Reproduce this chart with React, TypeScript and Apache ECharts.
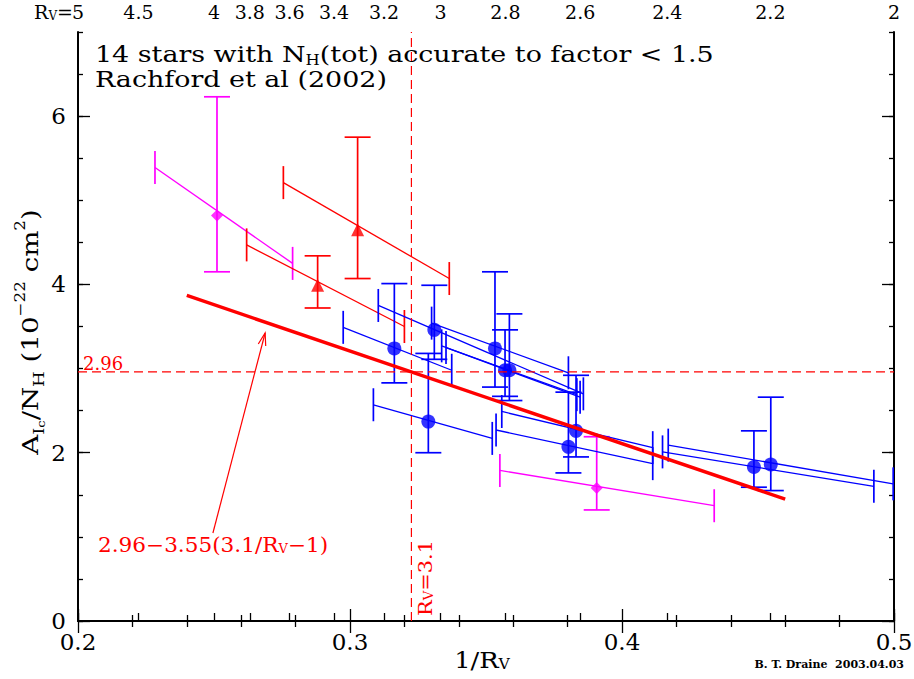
import React, { useEffect, useRef } from 'react';
import * as echarts from 'echarts';

const FONT = '"DejaVu Serif", "Liberation Serif", serif';
const BLUE = '#0000ff';
const RED = '#ff0000';
const MAGENTA = '#ff00ff';

// [x, y, yLow, yHigh, lineX1, lineY1, lineX2, lineY2]
const blueStars = [
  [0.3163, 3.24, 2.83, 4.01, 0.2975, 3.49, 0.3374, 2.98],
  [0.331, 3.46, 3.11, 3.99, 0.3104, 3.75, 0.3858, 2.7],
  [0.3288, 2.37, 2.0, 3.18, 0.3086, 2.57, 0.3523, 2.17],
  [0.3533, 3.24, 2.78, 4.15, 0.33, 3.54, 0.3803, 2.95],
  [0.357, 2.98, 2.67, 3.46, 0.3337, 3.27, 0.3846, 2.66],
  [0.3586, 2.98, 2.62, 3.65, 0.3353, 3.25, 0.3834, 2.69],
  [0.3803, 2.07, 1.76, 2.72, 0.3537, 2.27, 0.4113, 1.87],
  [0.3831, 2.26, 1.95, 2.92, 0.3558, 2.49, 0.4113, 2.06],
  [0.4485, 1.83, 1.59, 2.26, 0.4149, 2.01, 0.4926, 1.6],
  [0.4547, 1.86, 1.55, 2.66, 0.417, 2.09, 0.4997, 1.63],
];
const redStars = [
  [0.3028, 4.65, 4.07, 5.75, 0.2755, 5.21, 0.3365, 4.07],
  [0.2881, 3.99, 3.72, 4.34, 0.262, 4.47, 0.32, 3.5],
];
const magentaStars = [
  [0.2511, 4.82, 4.15, 6.23, 0.2283, 5.39, 0.2789, 4.25],
  [0.3907, 1.58, 1.32, 2.19, 0.3551, 1.79, 0.4339, 1.37],
];

const rvTicks = [5, 4.5, 4, 3.8, 3.6, 3.4, 3.2, 3, 2.8, 2.6, 2.4, 2.2, 2];
const yMajorTicks = [0, 2, 4, 6];
const fitLine = [
  [0.24, 3.869],
  [0.46, 1.448],
];
const refY = 2.96;
const refRv = 3.1;
const arrowSeg = [[0.2496, 1.046, 0.2688, 3.423]];

function starRender(color: string) {
  return (_params: any, api: any) => {
    const v = (i: number) => api.value(i);
    const lo = api.coord([v(0), v(2)]);
    const hi = api.coord([v(0), v(3)]);
    const a = api.coord([v(4), v(5)]);
    const b = api.coord([v(6), v(7)]);
    const cw = 13;
    const th = 16.5;
    const st = { stroke: color, lineWidth: 1.7 };
    const st2 = { stroke: color, lineWidth: 1.3 };
    const L = (x1: number, y1: number, x2: number, y2: number, s: any) => ({
      type: 'line',
      shape: { x1, y1, x2, y2 },
      style: s,
    });
    return {
      type: 'group',
      children: [
        L(a[0], a[1], b[0], b[1], st2),
        L(a[0], a[1] - th, a[0], a[1] + th, st),
        L(b[0], b[1] - th, b[0], b[1] + th, st),
        L(lo[0], lo[1], hi[0], hi[1], st),
        L(lo[0] - cw, lo[1], lo[0] + cw, lo[1], st),
        L(hi[0] - cw, hi[1], hi[0] + cw, hi[1], st),
      ],
    };
  };
}

function arrowRender(_params: any, api: any) {
  const p0 = api.coord([api.value(0), api.value(1)]);
  const p1 = api.coord([api.value(2), api.value(3)]);
  const dx = p0[0] - p1[0];
  const dy = p0[1] - p1[1];
  const len = Math.sqrt(dx * dx + dy * dy);
  const ux = dx / len;
  const uy = dy / len;
  const h = 13;
  const ang = 0.3;
  const rot = (t: number) => [
    p1[0] + h * (ux * Math.cos(t) - uy * Math.sin(t)),
    p1[1] + h * (ux * Math.sin(t) + uy * Math.cos(t)),
  ];
  const st = { stroke: RED, lineWidth: 1.2, fill: null };
  return {
    type: 'group',
    children: [
      { type: 'line', shape: { x1: p0[0], y1: p0[1], x2: p1[0], y2: p1[1] }, style: st },
      { type: 'polyline', shape: { points: [rot(ang), p1, rot(-ang)] }, style: st },
    ],
  };
}

const baseX = {
  type: 'value',
  min: 0.2,
  max: 0.5,
  interval: 0.1,
  gridIndex: 0,
  splitLine: { show: false },
};

export default function App() {
  const ref = useRef<HTMLDivElement>(null);
  useEffect(() => {
    if (!ref.current) return;
    const chart = echarts.init(ref.current, null, { renderer: 'svg' });
    const axisLine = { show: true, lineStyle: { color: '#000', width: 2 } };
    const option: any = {
      animation: false,
      backgroundColor: '#fff',
      grid: { left: 78, right: 20, top: 32, bottom: 58, outerBoundsMode: 'none', containLabel: false },
      xAxis: [
        {
          ...baseX,
          position: 'bottom',
          axisLine,
          axisTick: { inside: true, length: 12, lineStyle: { color: '#000', width: 1.3 } },
          minorTick: { show: true, splitNumber: 5, length: 6, lineStyle: { color: '#000', width: 1.3 } },
          axisLabel: { fontSize: 23, color: '#000', fontFamily: FONT, margin: 9 },
        },
        {
          ...baseX,
          position: 'top',
          axisLine,
          axisTick: { inside: true, length: 12, lineStyle: { color: '#000', width: 1.3 } },
          minorTick: { show: true, splitNumber: 5, length: 6, lineStyle: { color: '#000', width: 1.3 } },
          axisLabel: { show: false },
        },
        {
          ...baseX,
          position: 'top',
          axisLine: { show: false },
          axisTick: {
            show: true,
            inside: false,
            length: 8,
            customValues: rvTicks.map((r) => 1 / r),
            lineStyle: { color: '#000', width: 1.3 },
          },
          axisLabel: {
            show: true,
            customValues: rvTicks.map((r) => 1 / r),
            formatter: (v: number) => String(Math.round((1 / v) * 10) / 10),
            fontSize: 19,
            color: '#000',
            fontFamily: FONT,
            margin: 11,
          },
        },
      ],
      yAxis: [
        {
          type: 'value',
          min: 0,
          max: 7,
          interval: 0.5,
          position: 'left',
          splitLine: { show: false },
          axisLine,
          axisTick: {
            inside: true,
            length: 12,
            customValues: yMajorTicks,
            lineStyle: { color: '#000', width: 1.3 },
          },
          axisLabel: {
            customValues: yMajorTicks,
            fontSize: 23,
            color: '#000',
            fontFamily: FONT,
            margin: 12,
          },
        },
        {
          type: 'value',
          min: 0,
          max: 7,
          interval: 0.5,
          position: 'left',
          splitLine: { show: false },
          axisLine: { show: false },
          axisTick: { inside: true, length: 5, lineStyle: { color: '#000', width: 1.3 } },
          axisLabel: { show: false },
        },
        {
          type: 'value',
          min: 0,
          max: 7,
          interval: 0.5,
          position: 'right',
          splitLine: { show: false },
          axisLine,
          axisTick: {
            inside: true,
            length: 12,
            customValues: yMajorTicks,
            lineStyle: { color: '#000', width: 1.3 },
          },
          axisLabel: { show: false },
        },
        {
          type: 'value',
          min: 0,
          max: 7,
          interval: 0.5,
          position: 'right',
          splitLine: { show: false },
          axisLine: { show: false },
          axisTick: { inside: true, length: 5, lineStyle: { color: '#000', width: 1.3 } },
          axisLabel: { show: false },
        },
      ],
      series: [
        {
          type: 'custom',
          name: 'magenta bars',
          renderItem: starRender(MAGENTA),
          data: magentaStars,
          encode: { x: 0, y: 1 },
          z: 2,
        },
        {
          type: 'custom',
          name: 'red bars',
          renderItem: starRender(RED),
          data: redStars,
          encode: { x: 0, y: 1 },
          z: 2,
        },
        {
          type: 'custom',
          name: 'blue bars',
          renderItem: starRender(BLUE),
          data: blueStars,
          encode: { x: 0, y: 1 },
          z: 2,
        },
        {
          type: 'scatter',
          data: magentaStars.map((s) => [s[0], s[1]]),
          symbol: 'diamond',
          symbolSize: 12,
          itemStyle: { color: MAGENTA },
          z: 3,
        },
        {
          type: 'scatter',
          data: redStars.map((s) => [s[0], s[1]]),
          symbol: 'triangle',
          symbolSize: 13,
          itemStyle: { color: RED },
          z: 3,
        },
        {
          type: 'scatter',
          data: blueStars.map((s) => [s[0], s[1]]),
          symbol: 'circle',
          symbolSize: 14,
          itemStyle: { color: BLUE },
          z: 3,
        },
        {
          type: 'line',
          data: fitLine,
          showSymbol: false,
          symbol: 'none',
          lineStyle: { color: RED, width: 3.5 },
          z: 4,
        },
        {
          type: 'line',
          data: [
            [0.2, refY],
            [0.5, refY],
          ],
          symbol: 'none',
          lineStyle: { color: RED, width: 1.2, type: [9, 5] },
          z: 5,
        },
        {
          type: 'line',
          data: [
            [1 / refRv, 0],
            [1 / refRv, 7],
          ],
          symbol: 'none',
          lineStyle: { color: RED, width: 1.2, type: [9, 5] },
          z: 5,
        },
        {
          type: 'custom',
          renderItem: arrowRender,
          data: arrowSeg,
          encode: { x: [0, 2], y: [1, 3] },
          z: 5,
        },
      ],
      graphic: [
        {
          type: 'text',
          x: 95,
          y: 42,
          scaleX: 1.17,
          style: {
            text: '14 stars with N{s|H}(tot) accurate to factor < 1.5\nRachford et al (2002)',
            fontSize: 23,
            fontFamily: FONT,
            fill: '#000',
            lineHeight: 25,
            rich: {
              s: { fontSize: 14, fontFamily: FONT, fill: '#000', lineHeight: 14, verticalAlign: 'bottom' },
            },
          },
        },
        {
          type: 'text',
          x: 482,
          y: 660,
          scaleX: 1.12,
          style: {
            text: '1/R{s|V}',
            fontSize: 23,
            fontFamily: FONT,
            fill: '#000',
            align: 'center',
            verticalAlign: 'middle',
            rich: {
              s: { fontSize: 14, fontFamily: FONT, fill: '#000', lineHeight: 14, verticalAlign: 'bottom' },
            },
          },
        },
        {
          type: 'text',
          x: 30,
          y: 332,
          rotation: Math.PI / 2,
          scaleX: 1.2,
          style: {
            text: '{a|A}{s|I}{ss|c}{a|/N}{s|H}{a| (10}{p|−22}{a| cm}{p|2}{a|)}',
            align: 'center',
            verticalAlign: 'middle',
            rich: {
              a: { fontSize: 23, fontFamily: FONT, fill: '#000', lineHeight: 34 },
              s: { fontSize: 15, fontFamily: FONT, fill: '#000', lineHeight: 20, verticalAlign: 'bottom' },
              ss: { fontSize: 11, fontFamily: FONT, fill: '#000', lineHeight: 12, verticalAlign: 'bottom' },
              p: { fontSize: 14, fontFamily: FONT, fill: '#000', lineHeight: 22, verticalAlign: 'top' },
            },
          },
        },
        {
          type: 'text',
          x: 73,
          y: 12,
          style: {
            text: 'R{s|V}=',
            fontSize: 19,
            fontFamily: FONT,
            fill: '#000',
            align: 'right',
            verticalAlign: 'middle',
            rich: {
              s: { fontSize: 12, fontFamily: FONT, fill: '#000', lineHeight: 12, verticalAlign: 'bottom' },
            },
          },
        },
        {
          type: 'text',
          x: 83,
          y: 363,
          style: {
            text: '2.96',
            fontSize: 18,
            fontFamily: FONT,
            fill: RED,
            align: 'left',
            verticalAlign: 'middle',
          },
        },
        {
          type: 'text',
          x: 98,
          y: 545,
          scaleX: 1.08,
          style: {
            text: '2.96−3.55(3.1/R{s|V}−1)',
            fontSize: 20,
            fontFamily: FONT,
            fill: RED,
            align: 'left',
            verticalAlign: 'middle',
            rich: {
              s: { fontSize: 12, fontFamily: FONT, fill: RED, lineHeight: 12, verticalAlign: 'bottom' },
            },
          },
        },
        {
          type: 'text',
          x: 425,
          y: 616,
          rotation: Math.PI / 2,
          scaleX: 1.1,
          style: {
            text: 'R{s|V}=3.1',
            fontSize: 19,
            fontFamily: FONT,
            fill: RED,
            align: 'left',
            verticalAlign: 'middle',
            rich: {
              s: { fontSize: 12, fontFamily: FONT, fill: RED, lineHeight: 12, verticalAlign: 'bottom' },
            },
          },
        },
        {
          type: 'text',
          x: 904,
          y: 664,
          style: {
            text: 'B. T. Draine  2003.04.03',
            fontSize: 11,
            fontWeight: 'bold',
            fontFamily: FONT,
            fill: '#000',
            align: 'right',
            verticalAlign: 'middle',
          },
        },
      ],
    };
    chart.setOption(option);
    return () => chart.dispose();
  }, []);
  return (
    <div
      ref={ref}
      style={{ position: 'absolute', left: 0, top: 0, width: 914, height: 679, background: '#fff' }}
    />
  );
}
